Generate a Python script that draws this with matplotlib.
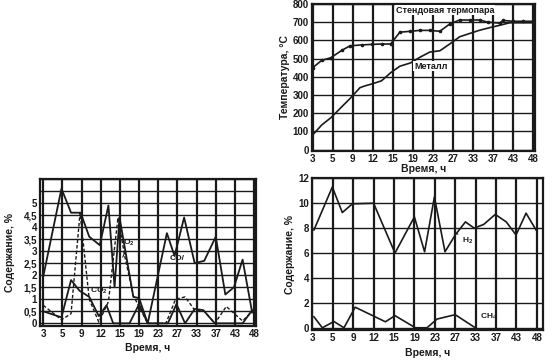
import matplotlib
matplotlib.use("Agg")
import matplotlib.pyplot as plt
import numpy as np

plt.rcParams['font.family'] = ['Liberation Sans', 'DejaVu Sans']
plt.rcParams['mathtext.default'] = 'regular'

# ---------------- data ----------------
time_labels = ["3", "5", "9", "12", "15", "19", "23", "27", "33", "37", "43", "48"]

# Temperature chart (x in tick-index units)
thermo_x = [0, 0.45, 0.91, 1.45, 1.86, 2.44, 2.94, 3.44, 3.89, 4.35, 4.88, 5.35,
            5.85, 6.35, 6.84, 7.34, 7.84, 8.34, 8.75, 9.34, 9.5, 10.0, 10.5, 11.0]
thermo_y = [450, 490, 505, 545, 570, 575, 578, 580, 580, 645, 650, 655,
            655, 650, 690, 712, 712, 712, 700, 695, 710, 705, 705, 705]
metal_x = [0, 0.45, 0.91, 1.45, 1.86, 2.36, 2.61, 2.94, 3.44, 3.89, 4.35, 4.88,
           5.35, 5.85, 6.35, 6.84, 7.34, 7.84, 8.34, 8.84, 9.34, 9.84, 10.5, 11.0]
metal_y = [80, 135, 175, 235, 280, 340, 350, 360, 378, 422, 458, 476,
           507, 536, 543, 580, 620, 638, 656, 670, 683, 697, 697, 697]

# CO / O2 / CO2 chart
co_x = [0, 0.95, 1.45, 1.95, 2.4, 2.95, 3.4, 3.72, 3.98, 4.7, 5.0, 5.45,
        6.45, 6.85, 7.35, 7.9, 8.4, 9.0, 9.5, 9.95, 10.4, 10.9]
co_y = [1.95, 5.6, 4.6, 4.6, 3.6, 3.25, 4.9, 1.5, 4.4, 1.1, 1.05, 0,
        3.75, 2.8, 4.4, 2.5, 2.6, 3.6, 1.2, 1.5, 2.65, 0.45]
o2_x = [0, 0.95, 1.45, 1.92, 2.4, 2.9, 3.4, 3.9, 4.25, 4.7, 5.45, 6.4,
        6.9, 7.4, 7.9, 8.4, 8.95, 9.55, 10.4, 10.9]
o2_y = [0.75, 0.15, 0.4, 4.6, 1.0, 0.05, 0.9, 4.4, 2.8, 1.15, 0, 0,
        1.0, 1.1, 0.55, 0.5, 0, 0.7, 0.1, 0.5]
co2_x = [0, 0.95, 1.45, 1.9, 2.4, 2.9, 3.3, 3.65, 4.5, 5.0, 5.45, 6.5,
         6.95, 7.4, 7.9, 8.35, 8.95, 10.4, 10.9]
co2_y = [0.5, 0.25, 1.8, 1.35, 1.1, 0.3, 0.75, 0, 0, 0.8, 0, 0,
         0.8, 0, 0.6, 0.55, 0, 0, 0.55]

# H2 / CH4 chart
h2_x = [0.08, 0.98, 1.47, 1.96, 3.0, 4.05, 5.0, 5.5, 5.98, 6.5, 7.0, 7.5,
        7.93, 8.4, 8.96, 9.5, 9.98, 10.47, 10.96]
h2_y = [7.85, 11.3, 9.25, 9.95, 10.0, 6.0, 8.9, 6.1, 10.5, 6.1, 7.45, 8.5,
        8.0, 8.3, 9.1, 8.5, 7.45, 9.2, 7.85]
ch4_x = [0.08, 0.49, 1.06, 1.55, 2.1, 3.58, 4.05, 5.05, 5.62, 6.11, 7.0, 7.98]
ch4_y = [0.88, 0, 0.5, 0, 1.65, 0.48, 0.97, 0, 0, 0.7, 1.05, 0]

# ---------------- figure ----------------
W, H = 554, 363
fig = plt.figure(figsize=(W / 100, H / 100), dpi=100)

def ax_px(left, top, right, bottom):
    return fig.add_axes([left / W, 1 - bottom / H, (right - left) / W, (bottom - top) / H])

ink = '#1a1a1a'
fs = 7

def style(ax, yticks, ylabels, xlim, ylim, hgrid, xlabel, ylabel, ylabel_pad=2, xlabel_pad=2):
    ax.set_xlim(*xlim)
    ax.set_ylim(*ylim)
    ax.set_xticks(range(len(time_labels)))
    ax.set_xticklabels(time_labels, fontsize=fs, fontweight='bold', color=ink)
    ax.set_yticks(yticks)
    ax.set_yticklabels(ylabels, fontsize=fs, fontweight='bold', color=ink)
    ax.tick_params(length=0, pad=2)
    for v in range(len(time_labels)):
        ax.axvline(v, color=ink, lw=1.6, zorder=1)
    for h in hgrid:
        ax.axhline(h, color=ink, lw=1.0, zorder=1)
    for s in ax.spines.values():
        s.set_color(ink)
        s.set_linewidth(1.6)
    ax.set_xlabel(xlabel, fontsize=fs + 0.5, fontweight='bold', color=ink, labelpad=xlabel_pad)
    ax.set_ylabel(ylabel, fontsize=fs + 0.5, fontweight='bold', color=ink, labelpad=ylabel_pad)

# Top-right temperature chart
ax1 = ax_px(311.7, 4, 535, 151)
t_ticks = list(range(0, 801, 100))
style(ax1, t_ticks, [str(t) for t in t_ticks], (-0.05, 11.1), (-8, 800),
      t_ticks, "Время, ч", "Температура, °С", xlabel_pad=0.5)
ax1.plot(thermo_x, thermo_y, color=ink, lw=1.2, marker='o', ms=1.6, zorder=3)
ax1.plot(metal_x, metal_y, color=ink, lw=1.2, zorder=3)
ax1.text(6.6, 766, "Стендовая термопара", fontsize=6.5, fontweight='bold', color=ink,
         ha='center', va='center', zorder=4,
         bbox=dict(facecolor='white', edgecolor='none', pad=0.5))
ax1.text(5.9, 458, "Металл", fontsize=6.5, fontweight='bold', color=ink,
         ha='center', va='center', zorder=4,
         bbox=dict(facecolor='white', edgecolor='none', pad=0.5))

# Bottom-left CO/O2/CO2 chart
ax2 = ax_px(40, 179, 256, 326)
g_ticks = [i * 0.5 for i in range(11)]
g_labels = [("%g" % v).replace('.', ',') for v in g_ticks]
style(ax2, g_ticks, g_labels, (-0.17, 11.1), (-0.11, 6),
      [i * 0.5 for i in range(13)], "Время, ч", "Содержание, %", ylabel_pad=6, xlabel_pad=3)
ax2.plot(co_x, co_y, color=ink, lw=1.3, zorder=3)
ax2.plot(o2_x, o2_y, color=ink, lw=1.0, ls=(0, (2.5, 1.5)), zorder=3)
ax2.plot(co2_x, co2_y, color=ink, lw=1.3, zorder=3)
ax2.annotate("O$_2$", xy=(4.15, 2.75), xytext=(4.45, 3.35), fontsize=6, fontweight='bold',
             color=ink, ha='center', va='center', zorder=5,
             arrowprops=dict(arrowstyle='-', color=ink, lw=0.8, shrinkA=1, shrinkB=0))
ax2.annotate("CO$_2$", xy=(2.45, 0.95), xytext=(2.9, 1.35), fontsize=6, fontweight='bold',
             color=ink, ha='center', va='center', zorder=5,
             arrowprops=dict(arrowstyle='-', color=ink, lw=0.8, shrinkA=1, shrinkB=0))
ax2.text(6.98, 2.7, "CO/", fontsize=6, fontweight='bold', color=ink,
         ha='center', va='center', zorder=5)

# Bottom-right H2/CH4 chart
ax3 = ax_px(311.7, 178.3, 543, 330)
h_ticks = list(range(0, 13, 2))
style(ax3, h_ticks, [str(t) for t in h_ticks], (-0.03, 11.3), (-0.18, 12),
      h_ticks, "Время, ч", "Содержание, %", xlabel_pad=4)
ax3.plot(h2_x, h2_y, color=ink, lw=1.2, zorder=3)
ax3.plot(ch4_x, ch4_y, color=ink, lw=1.2, zorder=3)
ax3.annotate("H$_2$", xy=(7.05, 7.6), xytext=(7.6, 7.0), fontsize=6, fontweight='bold',
             color=ink, ha='center', va='center', zorder=5,
             arrowprops=dict(arrowstyle='-', color=ink, lw=0.8, shrinkA=1, shrinkB=0))
ax3.annotate("CH$_4$", xy=(8.0, 0.2), xytext=(8.65, 0.85), fontsize=6, fontweight='bold',
             color=ink, ha='center', va='center', zorder=5,
             arrowprops=dict(arrowstyle='-', color=ink, lw=0.8, shrinkA=1, shrinkB=0))

fig.savefig("out.png", dpi=100)
